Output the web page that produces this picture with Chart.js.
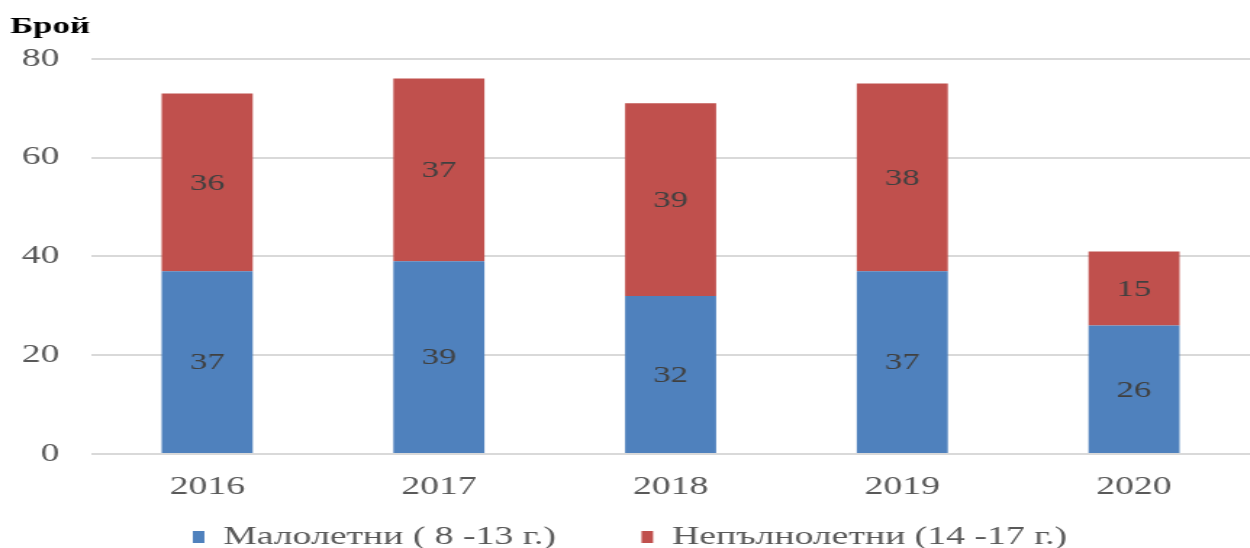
<!DOCTYPE html>
<html>
<head>
<meta charset="utf-8">
<script src="https://cdn.jsdelivr.net/npm/chart.js@4.4.1/dist/chart.umd.min.js"></script>
<style>
  html, body { margin: 0; padding: 0; background: #fff; overflow: hidden; }
  /* the reference is horizontally stretched, so draw narrow and stretch */
  #wrap { width: 862px; height: 548px; transform: scaleX(1.45); transform-origin: 0 0; }
</style>
</head>
<body>
<div id="wrap"><canvas id="chart"></canvas></div>
<script>
const years = ['2016', '2017', '2018', '2019', '2020'];
const minors = [37, 39, 32, 37, 26];      // Малолетни ( 8 -13 г.)
const juveniles = [36, 37, 39, 38, 15];   // Непълнолетни (14 -17 г.)
const yTicks = [0, 20, 40, 60, 80];

const FONT = "'Liberation Serif'";

// draws the value in the middle of every stacked segment
const segmentLabels = {
  id: 'segmentLabels',
  afterDatasetsDraw(chart) {
    const ctx = chart.ctx;
    ctx.save();
    ctx.font = '24px ' + FONT;
    ctx.fillStyle = '#404040';
    ctx.textAlign = 'center';
    ctx.textBaseline = 'middle';
    chart.data.datasets.forEach((ds, i) => {
      chart.getDatasetMeta(i).data.forEach((bar, j) => {
        ctx.fillText(String(ds.data[j]), bar.x, (bar.y + bar.base) / 2 + 1);
      });
    });
    ctx.restore();
  },
};

function draw() {
  new Chart(document.getElementById('chart').getContext('2d'), {
    type: 'bar',
    data: {
      labels: years,
      datasets: [
        { label: 'Малолетни ( 8 -13 г.)', data: minors, backgroundColor: '#4F81BD' },
        { label: 'Непълнолетни (14 -17 г.)', data: juveniles, backgroundColor: '#C0504D' },
      ],
    },
    options: {
      responsive: true,
      maintainAspectRatio: false,
      animation: false,
      layout: { padding: { left: 7, right: 0, top: 0, bottom: -12 } },
      datasets: { bar: { barPercentage: 0.393, categoryPercentage: 1 } },
      plugins: {
        title: {
          display: true,
          text: 'Брой',
          align: 'start',
          color: '#000',
          font: { family: FONT, size: 24, weight: '700' },
          padding: { top: 12, bottom: 18 },
        },
        legend: {
          position: 'bottom',
          labels: {
            color: '#595959',
            font: { family: FONT, size: 26 },
            boxWidth: 8,
            boxHeight: 12,
            padding: 20,
            // wider gap between the two entries, as in the source
            generateLabels: (chart) => Chart.defaults.plugins.legend.labels.generateLabels(chart)
              .map((item, i) => (i === 0 ? { ...item, text: item.text + '\u2003\u2002' } : item)),
          },
        },
        tooltip: { enabled: false },
      },
      scales: {
        x: {
          stacked: true,
          afterFit: (axis) => { axis.height = 50; },
          grid: { display: false, drawTicks: false },
          border: { display: false },
          ticks: { color: '#595959', font: { family: FONT, size: 26 }, padding: 18 },
        },
        y: {
          stacked: true,
          min: 0,
          max: 80,
          afterBuildTicks: (axis) => { axis.ticks = yTicks.map(v => ({ value: v })); },
          afterFit: (axis) => { axis.width = 56; },
          grid: { color: '#d9d9d9', lineWidth: 2, drawTicks: false },
          border: { display: false },
          ticks: { color: '#595959', font: { family: FONT, size: 26 }, padding: 22 },
        },
      },
    },
    plugins: [segmentLabels],
  });
}

Promise.all([
  document.fonts.load("24px 'Liberation Serif'"),
  document.fonts.load("bold 24px 'Liberation Serif'"),
]).then(draw, draw);
</script>
</body>
</html>
